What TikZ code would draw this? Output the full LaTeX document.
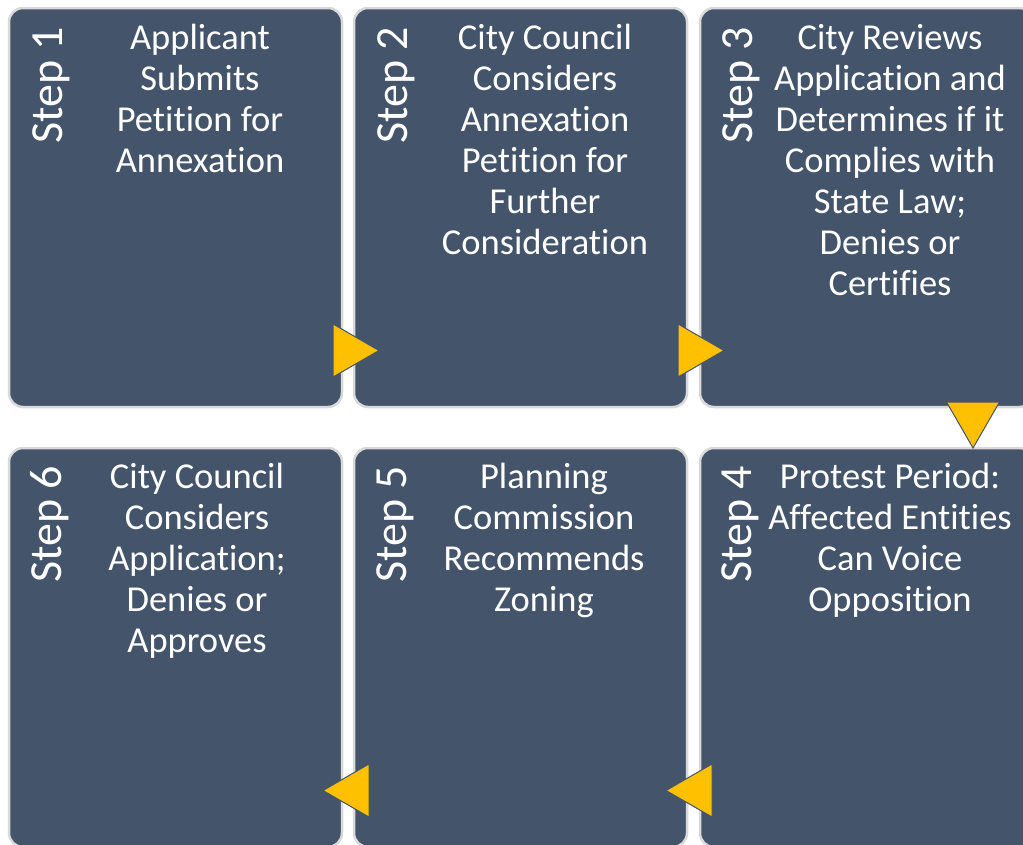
\documentclass[tikz,border=0pt]{standalone}
\usepackage{fontspec}
\setmainfont{Carlito}[Ligatures={NoCommon,NoContextual,NoRare}]
\definecolor{boxfill}{HTML}{44546A}
\definecolor{ring}{HTML}{D9D9D9}
\definecolor{arrowy}{HTML}{FFC000}
\tikzset{
  stepbox/.style={rectangle, rounded corners=14pt, fill=boxfill, draw=ring, line width=2.5pt,
    minimum width=333pt, minimum height=399pt, inner sep=0pt},
  steplabel/.style={rotate=90, anchor=base, text=white, inner sep=0pt,
    font=\fontsize{46}{54}\selectfont},
  steptext/.style={anchor=north, align=center, text=white, inner sep=0pt,
    font=\fontsize{36.5}{41}\selectfont},
  tri/.style={fill=arrowy, draw=boxfill, line width=1pt, line join=miter}
}
\newcommand{\fl}{\rule{0pt}{30pt}}
\begin{document}
\begin{tikzpicture}[x=1pt,y=-1pt]
\useasboundingbox (0,0) rectangle (1023,844);
\fill[white] (0,0) rectangle (1023,844);
\clip (0,0) rectangle (1023,844);
% boxes
\node[stepbox] (b1) at (175.5,207.5) {};
\node[stepbox] (b2) at (520.5,207.5) {};
\node[stepbox] (b3) at (866.5,207.5) {};
\node[stepbox] (b6) at (175.5,647.5) {};
\node[stepbox] (b5) at (520.5,647.5) {};
\node[stepbox] (b4) at (866.5,647.5) {};
% step labels
\node[steplabel] (l1) at (62,85.5) {Step 1};
\node[steplabel] (l2) at (407,85.5) {Step 2};
\node[steplabel] (l3) at (752,85.5) {Step 3};
\node[steplabel] (l6) at (61,524.5) {Step 6};
\node[steplabel] (l5) at (406,524.5) {Step 5};
\node[steplabel] (l4) at (751,524.5) {Step 4};
% texts
\node[steptext] (t1) at (200,19) {\fl Applicant\\Submits\\Petition for\\Annexation};
\node[steptext] (t2) at (545,19) {\fl City Council\\Considers\\Annexation\\Petition for\\Further\\Consideration};
\node[steptext] (t3) at (890,19) {\fl City Reviews\\Application and\\Determines if it\\Complies with\\State Law;\\Denies or\\Certifies};
\node[steptext] (t6) at (197,458) {\fl City Council\\Considers\\Application;\\Denies or\\Approves};
\node[steptext] (t5) at (544,458) {\fl Planning\\Commission\\Recommends\\Zoning};
\node[steptext] (t4) at (890,458) {\fl Protest Period:\\Affected Entities\\Can Voice\\Opposition};
% arrows
\coordinate (a12) at (356,350.5);
\coordinate (a23) at (701,350.5);
\coordinate (a34) at (973,425);
\coordinate (a45) at (689,790.5);
\coordinate (a56) at (346,790.5);
\filldraw[tri, shift={(a12)}] (-23,-26.5) -- (23,0) -- (-23,26.5) -- cycle;
\filldraw[tri, shift={(a23)}] (-23,-26.5) -- (23,0) -- (-23,26.5) -- cycle;
\filldraw[tri, shift={(a34)}] (-26.5,-23) -- (26.5,-23) -- (0,23) -- cycle;
\filldraw[tri, shift={(a45)}] (23,-26.5) -- (-23,0) -- (23,26.5) -- cycle;
\filldraw[tri, shift={(a56)}] (23,-26.5) -- (-23,0) -- (23,26.5) -- cycle;
\end{tikzpicture}
\end{document}
